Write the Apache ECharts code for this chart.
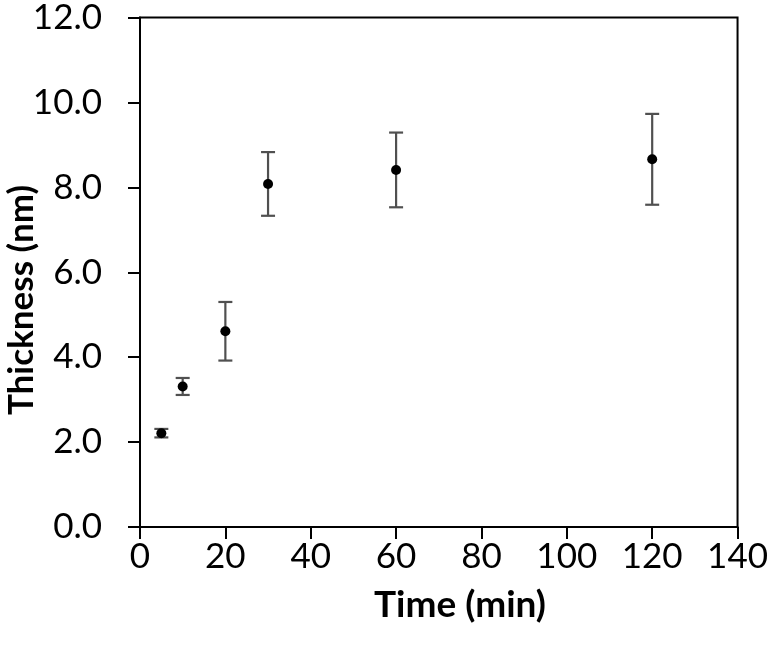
<!DOCTYPE html>
<html>
<head>
<meta charset="utf-8">
<script src="https://cdn.jsdelivr.net/npm/echarts@6/dist/echarts.min.js"></script>
<style>html,body{margin:0;padding:0;background:#fff;}#c{width:771px;height:651px;}</style>
</head>
<body>
<div id="c"></div>
<script>
var timeMin = [5, 10, 20, 30, 60, 120];
var thickness = [2.21, 3.31, 4.61, 8.08, 8.41, 8.66];
var errors = [0.10, 0.20, 0.69, 0.75, 0.88, 1.07];
var xTicks = [0, 20, 40, 60, 80, 100, 120, 140];
var yTicks = [0, 2, 4, 6, 8, 10, 12];

var FONT = 'Lato';
var chart = echarts.init(document.getElementById('c'), null, {renderer: 'canvas'});

var pts = timeMin.map(function (t, i) { return [t, thickness[i]]; });
var errData = timeMin.map(function (t, i) { return [t, thickness[i] - errors[i], thickness[i] + errors[i]]; });

chart.setOption({
  animation: false,
  backgroundColor: '#fff',
  grid: {left: 140, right: 30, top: 13, bottom: 124, show: true, borderColor: '#000', borderWidth: 2, backgroundColor: 'transparent'},
  xAxis: {
    type: 'value', min: xTicks[0], max: xTicks[xTicks.length - 1], interval: 20,
    axisLine: {lineStyle: {color: '#000', width: 2}},
    axisTick: {show: true, inside: false, length: 12, lineStyle: {color: '#000', width: 2}},
    splitLine: {show: false},
    axisLabel: {margin: 12, color: '#000', fontFamily: FONT, fontSize: 35}
  },
  yAxis: {
    type: 'value', min: yTicks[0], max: yTicks[yTicks.length - 1], interval: 2,
    axisLine: {show: true, lineStyle: {color: '#000', width: 2}},
    axisTick: {show: true, inside: false, length: 12, lineStyle: {color: '#000', width: 2}},
    splitLine: {show: false},
    axisLabel: {margin: 38, color: '#000', fontFamily: FONT, fontSize: 35, formatter: function (v) { return v.toFixed(1); }}
  },
  graphic: [
    {type: 'text', style: {text: 'Time (min)', font: 'bold 37px ' + FONT, fill: '#000', textAlign: 'center', textVerticalAlign: 'middle'}, x: 460, y: 605},
    {type: 'text', style: {text: 'Thickness (nm)', font: 'bold 35px ' + FONT, fill: '#000', textAlign: 'center', textVerticalAlign: 'middle'}, x: 22, y: 300, rotation: Math.PI / 2}
  ],
  series: [
    {
      type: 'custom',
      data: errData,
      z: 2,
      renderItem: function (params, api) {
        var x = api.value(0);
        var lo = api.coord([x, api.value(1)]);
        var hi = api.coord([x, api.value(2)]);
        var hw = 7;
        var st = {stroke: '#505050', lineWidth: 2.2};
        return {type: 'group', children: [
          {type: 'line', shape: {x1: lo[0], y1: lo[1], x2: hi[0], y2: hi[1]}, style: st},
          {type: 'line', shape: {x1: lo[0] - hw, y1: lo[1], x2: lo[0] + hw, y2: lo[1]}, style: st},
          {type: 'line', shape: {x1: hi[0] - hw, y1: hi[1], x2: hi[0] + hw, y2: hi[1]}, style: st}
        ]};
      }
    },
    {
      type: 'scatter', data: pts, symbol: 'circle', symbolSize: 10, z: 3,
      itemStyle: {color: '#000', opacity: 1}
    }
  ]
});
</script>
</body>
</html>
